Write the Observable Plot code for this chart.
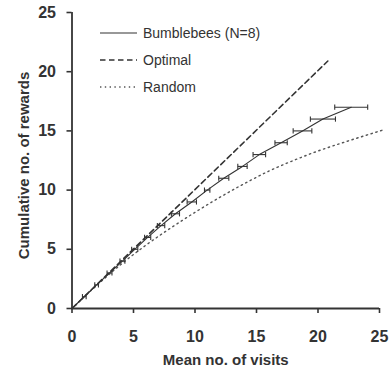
<!DOCTYPE html>
<html><head><meta charset="utf-8">
<script src="https://cdn.jsdelivr.net/npm/d3@7"></script>
<script src="https://cdn.jsdelivr.net/npm/@observablehq/plot@0.6"></script>
<style>
body{margin:0;background:#fff;}
#wrap{position:relative;width:391px;height:369px;font-family:"Liberation Sans",Arial,sans-serif;}
#legend{position:absolute;left:0;top:0;pointer-events:none;}
</style>
</head><body><div id="wrap"></div>
<script>
// Bumblebees (N=8): cumulative rewards vs mean visits, with horizontal error (visits)
const beeRewards = [0, 1, 2, 3, 4, 5, 6, 7, 8, 9, 10, 11, 12, 13, 14, 15, 16, 17];
const beeVisits  = [0, 1.0, 2.0, 3.05, 4.1, 5.1, 6.15, 7.24, 8.41, 9.74, 10.99, 12.34, 13.86, 15.23, 17.0, 18.74, 20.4, 22.7];
const beeErr     = [0, 0.15, 0.15, 0.2, 0.2, 0.25, 0.25, 0.3, 0.33, 0.38, 0.22, 0.41, 0.38, 0.51, 0.5, 0.76, 1.02, 1.34];
// Optimal
const optimalVisits  = [0, 20.8];
const optimalRewards = [0, 20.9];
// Random
const randomVisits  = [0, 2, 4, 6, 8, 10, 12, 14, 16, 18, 20, 22, 24, 25.2];
const randomRewards = [0, 1.94, 3.74, 5.34, 6.78, 8.12, 9.38, 10.54, 11.6, 12.5, 13.3, 14.0, 14.66, 15.05];
// Axes
const xTicks = [0, 5, 10, 15, 20, 25];
const yTicks = [0, 5, 10, 15, 20, 25];
const xLabel = "Mean no. of visits";
const yLabel = "Cumulative no. of rewards";
const legendLabels = ["Bumblebees (N=8)", "Optimal", "Random"];

const bees = beeRewards.map((y, i) => ({x: beeVisits[i], y, err: beeErr[i]}));
const beeBars = bees.filter(d => d.err > 0);
const optimal = optimalVisits.map((x, i) => ({x, y: optimalRewards[i]}));
const random = randomVisits.map((x, i) => ({x, y: randomRewards[i]}));
const cap = 0.22;
const ink = "#333";

const chart = Plot.plot({
  width: 391, height: 369,
  marginLeft: 71.5, marginRight: 12, marginTop: 12, marginBottom: 61,
  style: {fontFamily: '"Liberation Sans", Arial, sans-serif', color: ink, background: "#fff"},
  x: {domain: [0, 25]},
  y: {domain: [0, 25]},
  marks: [
    Plot.line(random, {x: "x", y: "y", stroke: "#555", strokeWidth: 1.4, strokeDasharray: "1.4,3.6", curve: "monotone-x"}),
    Plot.line(optimal, {x: "x", y: "y", stroke: ink, strokeWidth: 1.6, strokeDasharray: "5.5,3.5"}),
    Plot.line(bees, {x: "x", y: "y", stroke: ink, strokeWidth: 1.1}),
    Plot.link(beeBars, {x1: d => d.x - d.err, x2: d => d.x + d.err, y1: "y", y2: "y", stroke: ink, strokeWidth: 1.1}),
    Plot.link(beeBars, {x1: d => d.x - d.err, x2: d => d.x - d.err, y1: d => d.y - cap, y2: d => d.y + cap, stroke: ink, strokeWidth: 1.1}),
    Plot.link(beeBars, {x1: d => d.x + d.err, x2: d => d.x + d.err, y1: d => d.y - cap, y2: d => d.y + cap, stroke: ink, strokeWidth: 1.1}),
    Plot.axisX({ticks: xTicks, tickSize: 5, tickPadding: 17, fontSize: 16, fontWeight: "bold", label: null, stroke: ink, strokeWidth: 1.6}),
    Plot.axisY({ticks: yTicks, tickSize: 5, tickPadding: 11, fontSize: 16, fontWeight: "bold", label: null, stroke: ink, strokeWidth: 1.6}),
    Plot.ruleY([0], {stroke: ink, strokeWidth: 1.8}),
    Plot.ruleX([0], {stroke: ink, strokeWidth: 1.8}),
    Plot.text([xLabel], {frameAnchor: "bottom", dy: 52, fontSize: 15, fontWeight: "bold", fill: ink, lineAnchor: "middle"}),
    Plot.text([yLabel], {frameAnchor: "left", dx: -48, dy: 5, rotate: -90, textAnchor: "middle", fontSize: 15, fontWeight: "bold", fill: ink, lineAnchor: "middle"})
  ]
});
const wrap = document.getElementById("wrap");
wrap.appendChild(chart);

// Legend overlay
const ns = "http://www.w3.org/2000/svg";
const lg = document.createElementNS(ns, "svg");
lg.setAttribute("id", "legend");
lg.setAttribute("width", 391); lg.setAttribute("height", 369);
const styles = [
  {dash: null, w: 1.1, c: ink},
  {dash: "5.5,3.5", w: 1.4, c: ink},
  {dash: "1.4,3.4", w: 1.3, c: "#555"}
];
legendLabels.forEach((t, i) => {
  const yy = 33 + i * 27;
  const l = document.createElementNS(ns, "line");
  l.setAttribute("x1", 100); l.setAttribute("x2", 137);
  l.setAttribute("y1", yy); l.setAttribute("y2", yy);
  l.setAttribute("stroke", styles[i].c); l.setAttribute("stroke-width", styles[i].w);
  if (styles[i].dash) l.setAttribute("stroke-dasharray", styles[i].dash);
  lg.appendChild(l);
  const tx = document.createElementNS(ns, "text");
  tx.setAttribute("x", 143); tx.setAttribute("y", yy);
  tx.setAttribute("dy", "0.35em");
  tx.setAttribute("font-size", 14);
  tx.setAttribute("fill", ink);
  tx.setAttribute("font-family", '"Liberation Sans", Arial, sans-serif');
  tx.textContent = t;
  lg.appendChild(tx);
});
wrap.appendChild(lg);
</script>
</body></html>
